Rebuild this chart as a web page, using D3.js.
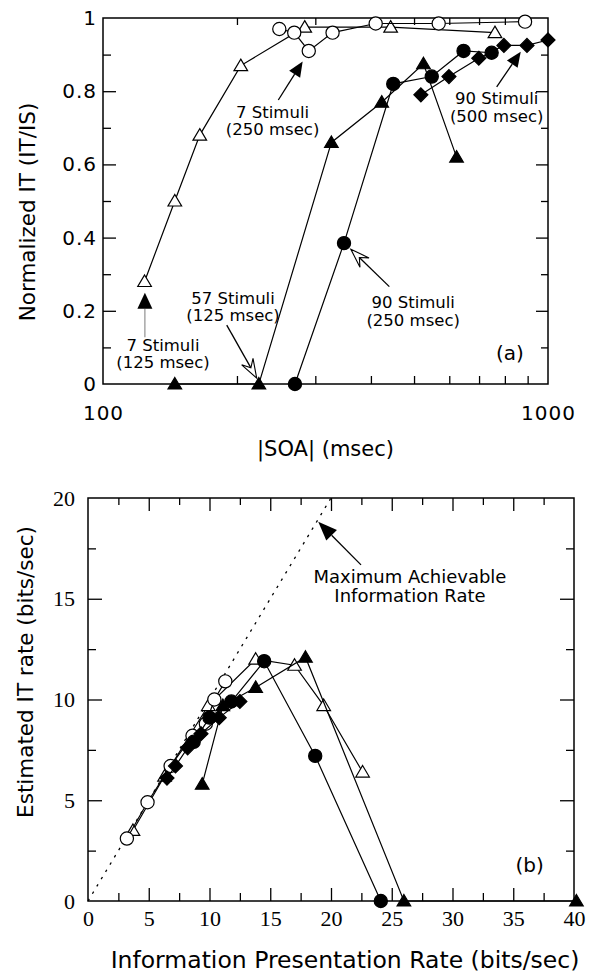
<!DOCTYPE html>
<html><head><meta charset="utf-8">
<script src="https://cdn.jsdelivr.net/npm/d3@7"></script>
<style>body{margin:0;background:#fff}</style>
</head><body>
<svg id="c" width="591" height="977" xmlns="http://www.w3.org/2000/svg"></svg>
<script>
// ---------- Panel (a): |SOA| (msec) vs normalized IT ----------
const aOpenTriSOA  = [124, 145, 165, 204, 284, 443, 760];          // 7 stimuli (125 msec)
const aOpenTriIT   = [0.28, 0.50, 0.68, 0.87, 0.975, 0.975, 0.96];
const aOpenCircSOA = [249, 269, 290, 328, 410, 568, 888];          // 7 stimuli (250 msec)
const aOpenCircIT  = [0.97, 0.96, 0.91, 0.96, 0.985, 0.985, 0.99];
const aFillTriSOA  = [145, 224, 326, 423, 525, 623];               // 57 stimuli (125 msec)
const aFillTriIT   = [0, 0, 0.66, 0.77, 0.875, 0.62];
const aFillCircSOA = [270, 348, 449, 548, 646, 747];               // 90 stimuli (250 msec)
const aFillCircIT  = [0, 0.385, 0.82, 0.84, 0.91, 0.905];
const aDiamondSOA  = [518, 599, 699, 796, 897, 1000];              // 90 stimuli (500 msec)
const aDiamondIT   = [0.79, 0.84, 0.89, 0.925, 0.925, 0.94];
const aXTickLabels = [100, 1000];
const aXMinorTicks = [200, 300, 400, 500, 600, 700, 800, 900];
const aYTicks      = [0, 0.2, 0.4, 0.6, 0.8, 1];
const aYMinorTicks = [0.1, 0.3, 0.5, 0.7, 0.9];

// ---------- Panel (b): information presentation rate vs IT rate ----------
const bOpenTriRate  = [22.6, 19.4, 17.0, 13.8, 9.9, 6.3, 3.7];
const bOpenTriIT    = [6.4, 9.7, 11.7, 12.0, 9.7, 6.2, 3.5];
const bOpenCircRate = [11.3, 10.4, 9.7, 8.6, 6.8, 4.9, 3.2];
const bOpenCircIT   = [10.9, 10.0, 8.8, 8.2, 6.7, 4.9, 3.1];
const bFillTriRate  = [40.2, 26.0, 17.9, 13.8, 11.1, 9.4];
const bFillTriIT    = [0, 0, 12.1, 10.6, 9.7, 5.8];
const bFillCircRate = [24.1, 18.7, 14.5, 11.8, 10.0, 8.7];
const bFillCircIT   = [0, 7.2, 11.9, 9.9, 9.1, 7.9];
const bDiamondRate  = [12.5, 10.8, 9.3, 8.2, 7.2, 6.5];
const bDiamondIT    = [9.9, 9.1, 8.3, 7.6, 6.7, 6.1];
const bMaxRateLine  = [[0, 0], [20, 20]];
const bXTicks      = [0, 5, 10, 15, 20, 25, 30, 35, 40];
const bXMinorTicks = [2.5, 7.5, 12.5, 17.5, 22.5, 27.5, 32.5, 37.5];
const bYTicks      = [0, 5, 10, 15, 20];
const bYMinorTicks = [2.5, 7.5, 12.5, 17.5];

const SANS = "'DejaVu Sans', Verdana, sans-serif";
const SERIF = "'Liberation Serif', 'Times New Roman', serif";

const svg = d3.select("#c");

const xA = d3.scaleLog().domain([100, 1000]).range([103, 548]);
const yA = d3.scaleLinear().domain([0, 1]).range([384, 18]);
const xB = d3.scaleLinear().domain([0, 40]).range([88, 574]);
const yB = d3.scaleLinear().domain([0, 20]).range([901, 498]);

function zip(xs, ys) { return xs.map((x, i) => [x, ys[i]]); }

function markerPath(type) {
  if (type === "tri") return "M0,-6.5L6.8,5L-6.8,5Z";
  if (type === "dia") return "M0,-7L7,0L0,7L-7,0Z";
  return null;
}

function drawSeries(g, x, y, pts, type, filled) {
  const line = d3.line().x(d => x(d[0])).y(d => y(d[1]));
  g.append("path").attr("d", line(pts)).attr("fill", "none")
    .attr("stroke", "#000").attr("stroke-width", 1.2);
  const m = g.append("g");
  pts.forEach(p => {
    if (type === "circ") {
      m.append("circle").attr("cx", x(p[0])).attr("cy", y(p[1])).attr("r", 6.6)
        .attr("fill", filled ? "#000" : "#fff").attr("stroke", "#000").attr("stroke-width", 1.2);
    } else {
      m.append("path").attr("d", markerPath(type))
        .attr("transform", `translate(${x(p[0])},${y(p[1])})`)
        .attr("fill", filled ? "#000" : "#fff").attr("stroke", "#000").attr("stroke-width", 1.2);
    }
  });
}

function styleAxis(g, font, size, spacing) {
  g.select(".domain").remove();
  g.selectAll(".tick line").attr("stroke", "#000").attr("stroke-width", 1.3);
  g.selectAll("text").attr("font-family", font).attr("font-size", size)
    .attr("fill", "#000").attr("letter-spacing", spacing || 0);
}

function filledArrow(g, x1, y1, x2, y2, len, hw, lineColor) {
  const L = Math.hypot(x2 - x1, y2 - y1), ux = (x2 - x1) / L, uy = (y2 - y1) / L;
  const nx = -uy, ny = ux;
  const bx = x2 - ux * len, by = y2 - uy * len;
  g.append("line").attr("x1", x1).attr("y1", y1).attr("x2", bx).attr("y2", by)
    .attr("stroke", lineColor || "#000").attr("stroke-width", 1.3);
  g.append("path").attr("d", `M${x2},${y2}L${bx + nx * hw},${by + ny * hw}L${bx - nx * hw},${by - ny * hw}Z`)
    .attr("fill", "#000");
}
function openArrow(g, x1, y1, x2, y2, len, hw) {
  const L = Math.hypot(x2 - x1, y2 - y1), ux = (x2 - x1) / L, uy = (y2 - y1) / L;
  const nx = -uy, ny = ux;
  const bx = x2 - ux * len, by = y2 - uy * len;
  const kx = x2 - ux * len * 0.62, ky = y2 - uy * len * 0.62;
  g.append("line").attr("x1", x1).attr("y1", y1).attr("x2", kx).attr("y2", ky)
    .attr("stroke", "#000").attr("stroke-width", 1.3);
  g.append("path").attr("d", `M${x2},${y2}L${bx + nx * hw},${by + ny * hw}L${kx},${ky}L${bx - nx * hw},${by - ny * hw}Z`)
    .attr("fill", "#fff").attr("stroke", "#000").attr("stroke-width", 1.1);
}
function label2(g, x, y, lines, size, gap) {
  const t = g.append("text").attr("x", x).attr("y", y + size * 0.36).attr("text-anchor", "middle")
    .attr("font-family", SANS).attr("font-size", size).attr("fill", "#000");
  lines.forEach((s, i) => {
    t.append("tspan").attr("x", x).attr("dy", i === 0 ? 0 : gap).text(s);
  });
}

// ================= Panel (a) =================
const gA = svg.append("g");
const aBottomLab = gA.append("g").attr("transform", `translate(0,${yA(0)})`)
  .call(d3.axisBottom(xA).tickValues(aXTickLabels).tickFormat(d3.format("d")).tickSize(0).tickPadding(22));
styleAxis(aBottomLab, SANS, 20, 1);
const aBottomMinor = gA.append("g").attr("transform", `translate(0,${yA(0)})`)
  .call(d3.axisBottom(xA).tickValues(aXMinorTicks).tickFormat("").tickSizeInner(-8).tickSizeOuter(0));
styleAxis(aBottomMinor, SANS, 20);
const aTopMinor = gA.append("g").attr("transform", `translate(0,${yA(1)})`)
  .call(d3.axisTop(xA).tickValues(aXMinorTicks).tickFormat("").tickSizeInner(-7).tickSizeOuter(0));
styleAxis(aTopMinor, SANS, 20);
const aLeft = gA.append("g").attr("transform", `translate(${xA(100)},0)`)
  .call(d3.axisLeft(yA).tickValues(aYTicks).tickFormat(d => d === 0 ? "0" : d === 1 ? "1" : d3.format(".1f")(d))
    .tickSizeInner(-13).tickSizeOuter(0).tickPadding(6));
styleAxis(aLeft, SANS, 20, 1);
aLeft.selectAll(".tick").filter(d => d === 0 || d === 1).select("line").remove();
const aLeftMinor = gA.append("g").attr("transform", `translate(${xA(100)},0)`)
  .call(d3.axisLeft(yA).tickValues(aYMinorTicks).tickFormat("").tickSizeInner(-8).tickSizeOuter(0));
styleAxis(aLeftMinor, SANS, 20);
const aRight = gA.append("g").attr("transform", `translate(${xA(1000)},0)`)
  .call(d3.axisRight(yA).tickValues(aYTicks.filter(d => d > 0 && d < 1)).tickFormat("").tickSizeInner(-12).tickSizeOuter(0));
styleAxis(aRight, SANS, 20);
const aRightMinor = gA.append("g").attr("transform", `translate(${xA(1000)},0)`)
  .call(d3.axisRight(yA).tickValues(aYMinorTicks).tickFormat("").tickSizeInner(-7).tickSizeOuter(0));
styleAxis(aRightMinor, SANS, 20);
gA.append("rect").attr("x", xA(100)).attr("y", yA(1)).attr("width", xA(1000) - xA(100))
  .attr("height", yA(0) - yA(1)).attr("fill", "none").attr("stroke", "#000").attr("stroke-width", 1.5);

drawSeries(gA, xA, yA, zip(aOpenTriSOA, aOpenTriIT), "tri", false);
drawSeries(gA, xA, yA, zip(aOpenCircSOA, aOpenCircIT), "circ", false);
drawSeries(gA, xA, yA, zip(aFillTriSOA, aFillTriIT), "tri", true);
drawSeries(gA, xA, yA, zip(aFillCircSOA, aFillCircIT), "circ", true);
drawSeries(gA, xA, yA, zip(aDiamondSOA, aDiamondIT), "dia", true);

const annA = gA.append("g");
filledArrow(annA, xA(247.7), yA(0.776), xA(281), yA(0.881), 15, 6.5);
label2(annA, xA(240.5), yA(0.744), ["7 Stimuli", "(250 msec)"], 16.5, 17.5);
filledArrow(annA, xA(124.2), yA(0.128), xA(124.2), yA(0.249), 16, 7.5, "#999");
label2(annA, xA(136.4), yA(0.107), ["7 Stimuli", "(125 msec)"], 16.5, 17.5);
openArrow(annA, xA(189.7), yA(0.161), xA(221.5), yA(0.016), 19, 6.5);
label2(annA, xA(196), yA(0.236), ["57 Stimuli", "(125 msec)"], 16.5, 17.5);
openArrow(annA, xA(440), yA(0.266), xA(360.6), yA(0.368), 19, 6.5);
label2(annA, xA(497.8), yA(0.225), ["90 Stimuli", "(250 msec)"], 16.5, 18);
filledArrow(annA, xA(766.8), yA(0.812), xA(868.4), yA(0.908), 15, 6.5);
label2(annA, xA(766.8), yA(0.781), ["90 Stimuli", "(500 msec)"], 16.5, 18);
label2(annA, xA(821.5), yA(0.085), ["(a)"], 20, 0);

svg.append("text").attr("x", (xA(100) + xA(1000)) / 2).attr("y", 456).attr("text-anchor", "middle")
  .attr("font-family", SANS).attr("font-size", 21).attr("fill", "#000").text("|SOA| (msec)");
svg.append("text").attr("transform", "translate(27,212) rotate(-90)").attr("text-anchor", "middle")
  .attr("dominant-baseline", "central").attr("font-family", SANS).attr("font-size", 21.5)
  .attr("fill", "#000").text("Normalized IT (IT/IS)");

// ================= Panel (b) =================
const gB = svg.append("g");
const bBottom = gB.append("g").attr("transform", `translate(0,${yB(0)})`)
  .call(d3.axisBottom(xB).tickValues(bXTicks).tickSizeInner(-13).tickSizeOuter(0).tickPadding(9));
styleAxis(bBottom, SERIF, 22);
bBottom.selectAll(".tick").filter(d => d === 0 || d === 40).select("line").remove();
const bBottomMinor = gB.append("g").attr("transform", `translate(0,${yB(0)})`)
  .call(d3.axisBottom(xB).tickValues(bXMinorTicks).tickFormat("").tickSizeInner(-8).tickSizeOuter(0));
styleAxis(bBottomMinor, SERIF, 22);
const bTop = gB.append("g").attr("transform", `translate(0,${yB(20)})`)
  .call(d3.axisTop(xB).tickValues(bXTicks.filter(d => d > 0 && d < 40)).tickFormat("").tickSizeInner(-13).tickSizeOuter(0));
styleAxis(bTop, SERIF, 22);
const bTopMinor = gB.append("g").attr("transform", `translate(0,${yB(20)})`)
  .call(d3.axisTop(xB).tickValues(bXMinorTicks).tickFormat("").tickSizeInner(-7).tickSizeOuter(0));
styleAxis(bTopMinor, SERIF, 22);
const bLeft = gB.append("g").attr("transform", `translate(${xB(0)},0)`)
  .call(d3.axisLeft(yB).tickValues(bYTicks).tickSizeInner(-14).tickSizeOuter(0).tickPadding(13));
styleAxis(bLeft, SERIF, 22);
bLeft.selectAll(".tick").filter(d => d === 0 || d === 20).select("line").remove();
const bLeftMinor = gB.append("g").attr("transform", `translate(${xB(0)},0)`)
  .call(d3.axisLeft(yB).tickValues(bYMinorTicks).tickFormat("").tickSizeInner(-8).tickSizeOuter(0));
styleAxis(bLeftMinor, SERIF, 22);
const bRight = gB.append("g").attr("transform", `translate(${xB(40)},0)`)
  .call(d3.axisRight(yB).tickValues(bYTicks.filter(d => d > 0 && d < 20)).tickFormat("").tickSizeInner(-14).tickSizeOuter(0));
styleAxis(bRight, SERIF, 22);
const bRightMinor = gB.append("g").attr("transform", `translate(${xB(40)},0)`)
  .call(d3.axisRight(yB).tickValues(bYMinorTicks).tickFormat("").tickSizeInner(-8).tickSizeOuter(0));
styleAxis(bRightMinor, SERIF, 22);
gB.append("rect").attr("x", xB(0)).attr("y", yB(20)).attr("width", xB(40) - xB(0))
  .attr("height", yB(0) - yB(20)).attr("fill", "none").attr("stroke", "#000").attr("stroke-width", 1.5);

gB.append("path").attr("d", d3.line().x(d => xB(d[0])).y(d => yB(d[1]))(bMaxRateLine))
  .attr("fill", "none").attr("stroke", "#000").attr("stroke-width", 1.3).attr("stroke-dasharray", "2.5,6");

drawSeries(gB, xB, yB, zip(bOpenTriRate, bOpenTriIT), "tri", false);
drawSeries(gB, xB, yB, zip(bOpenCircRate, bOpenCircIT), "circ", false);
drawSeries(gB, xB, yB, zip(bFillTriRate, bFillTriIT), "tri", true);
drawSeries(gB, xB, yB, zip(bFillCircRate, bFillCircIT), "circ", true);
drawSeries(gB, xB, yB, zip(bDiamondRate, bDiamondIT), "dia", true);

const annB = gB.append("g");
filledArrow(annB, xB(22.47), yB(16.68), xB(18.95), yB(18.82), 19, 7.5);
label2(annB, xB(26.5), yB(16.08), ["Maximum Achievable", "Information Rate"], 18, 19);
label2(annB, xB(36.35), yB(1.79), ["(b)"], 20, 0);

svg.append("text").attr("x", 345).attr("y", 968).attr("text-anchor", "middle")
  .attr("font-family", SANS).attr("font-size", 23.5).attr("fill", "#000").text("Information Presentation Rate (bits/sec)");
svg.append("text").attr("transform", "translate(25,672) rotate(-90)").attr("text-anchor", "middle")
  .attr("dominant-baseline", "central").attr("font-family", SANS).attr("font-size", 21.5)
  .attr("fill", "#000").text("Estimated IT rate (bits/sec)");
</script>
</body></html>
